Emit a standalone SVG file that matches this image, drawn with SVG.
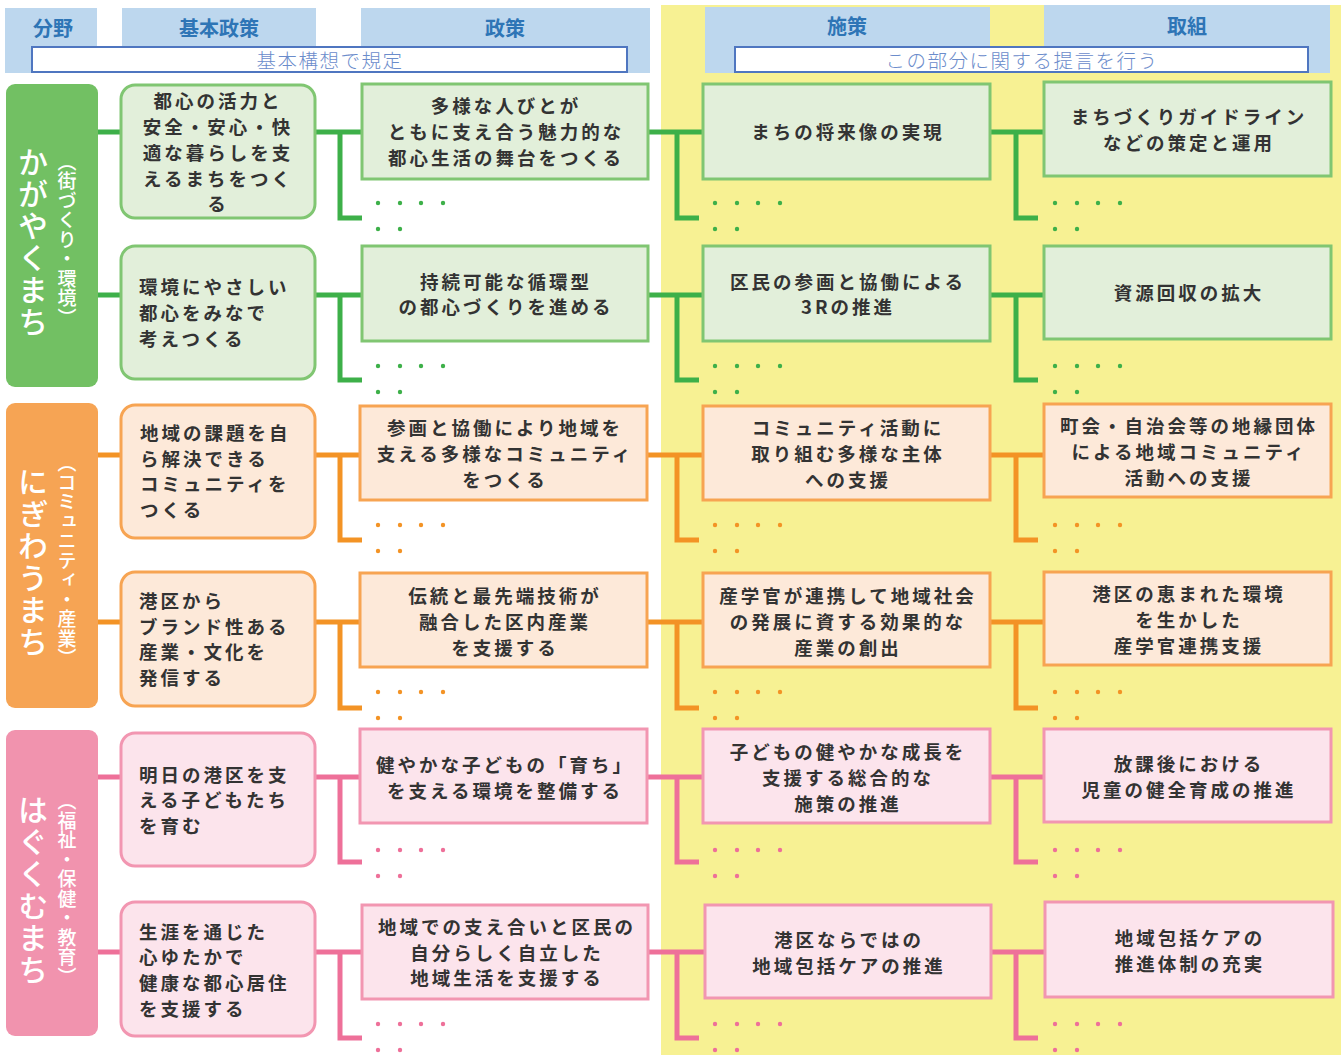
<svg xmlns="http://www.w3.org/2000/svg" width="1341" height="1055" viewBox="0 0 1341 1055">
<style>
text{font-family:"Noto Sans CJK JP","Noto Sans",sans-serif}
.hdr{fill:#bdd7ee}
.ht{font-weight:bold;font-size:20px;fill:#2e75b6;text-anchor:middle;dominant-baseline:central}
.wb{fill:#fff;stroke:#4f76c0;stroke-width:2}
.wt{font-weight:300;font-size:19.5px;letter-spacing:1.5px;fill:#6b8ccb;text-anchor:middle;dominant-baseline:central}
.t{font-weight:bold;font-size:18.5px;letter-spacing:3px;fill:#333;dominant-baseline:central}
.c{text-anchor:middle}
.vm{font-size:30px;letter-spacing:2px;fill:#fff;writing-mode:vertical-rl;text-anchor:middle;font-weight:500}
.vs{font-size:19px;letter-spacing:0.5px;fill:#fff;writing-mode:vertical-rl;text-anchor:middle;font-weight:500}
.gb{fill:#e2efda;stroke:#80c672;stroke-width:3}
.ob{fill:#fde9d9;stroke:#f7a452;stroke-width:3}
.pb{fill:#fce4ec;stroke:#f296b1;stroke-width:3}
.gl{fill:none;stroke:#3db049;stroke-width:5}
.ol{fill:none;stroke:#f39325;stroke-width:5}
.pl{fill:none;stroke:#ee7099;stroke-width:5}
.gd{fill:#3db049}
.od{fill:#f39325}
.pd{fill:#ee7099}
</style>
<defs>
<g id="dots">
<circle cx="0" cy="0" r="2.2"/><circle cx="22" cy="0" r="2.2"/><circle cx="43" cy="0" r="2.2"/><circle cx="65" cy="0" r="2.2"/>
<circle cx="0" cy="26" r="2.2"/><circle cx="22" cy="26" r="2.2"/>
</g>
</defs>
<rect x="0" y="0" width="1341" height="1055" fill="#fff"/>
<rect x="661" y="5" width="680" height="1050" fill="#f7f193"/>

<g id="header">
<rect class="hdr" x="5" y="8" width="92" height="65"/>
<rect class="hdr" x="122" y="8" width="194" height="65"/>
<rect class="hdr" x="361" y="8" width="289" height="65"/>
<rect class="hdr" x="705" y="7" width="285" height="66"/>
<rect class="hdr" x="1044" y="5" width="286" height="68"/>
<text class="ht" x="53" y="27">分野</text>
<text class="ht" x="219" y="27">基本政策</text>
<text class="ht" x="505" y="27">政策</text>
<text class="ht" x="847" y="25">施策</text>
<text class="ht" x="1187" y="25">取組</text>
<rect class="wb" x="32" y="47" width="595" height="25"/>
<text class="wt" x="330" y="59">基本構想で規定</text>
<rect class="wb" x="735" y="47" width="573" height="25"/>
<text class="wt" x="1022" y="59">この部分に関する提言を行う</text>
</g>

<g id="connectors">
<g class="gl">
<path d="M98 132H121M315 132H362M340 132V218H362M648 132H703M677 132V218H699M990 132H1044M1016 132V218H1038"/>
<path d="M98 295H121M315 295H362M340 295V380H362M648 295H703M677 295V380H699M990 295H1044M1016 295V380H1038"/>
</g>
<g class="ol">
<path d="M98 455H121M315 455H360M340 455V540H362M647 455H703M677 455V540H699M990 455H1044M1016 455V540H1038"/>
<path d="M98 622H121M315 622H360M340 622V708H362M647 622H703M677 622V708H699M990 622H1044M1016 622V708H1038"/>
</g>
<g class="pl">
<path d="M98 777H121M315 777H360M340 777V862H362M647 777H703M677 777V862H699M990 777H1044M1016 777V862H1038"/>
<path d="M98 952H121M315 952H362M340 952V1038H362M647 952H705M677 952V1038H699M991 952H1045M1016 952V1038H1038"/>
</g>
<g class="gd">
<use href="#dots" x="378" y="203"/><use href="#dots" x="715" y="203"/><use href="#dots" x="1055" y="203"/>
<use href="#dots" x="378" y="366"/><use href="#dots" x="715" y="366"/><use href="#dots" x="1055" y="366"/>
</g>
<g class="od">
<use href="#dots" x="378" y="525"/><use href="#dots" x="715" y="525"/><use href="#dots" x="1055" y="525"/>
<use href="#dots" x="378" y="692"/><use href="#dots" x="715" y="692"/><use href="#dots" x="1055" y="692"/>
</g>
<g class="pd">
<use href="#dots" x="378" y="850"/><use href="#dots" x="715" y="850"/><use href="#dots" x="1055" y="850"/>
<use href="#dots" x="378" y="1024"/><use href="#dots" x="715" y="1024"/><use href="#dots" x="1055" y="1024"/>
</g>
</g>

<g id="cat-green">
<rect x="6" y="84" width="92" height="303" rx="9" fill="#72c063"/>
<text class="vm" x="33" y="243">かがやくまち</text>
<text class="vs" x="67" y="240">（街づくり・環境）</text>
</g>
<g id="cat-orange">
<rect x="6" y="403" width="92" height="305" rx="9" fill="#f6a454"/>
<text class="vm" x="33" y="563">にぎわうまち</text>
<text class="vs" x="67" y="561">（コミュニティ・産業）</text>
</g>
<g id="cat-pink">
<rect x="6" y="730" width="92" height="306" rx="9" fill="#f193ae"/>
<text class="vm" x="33" y="891">はぐくむまち</text>
<text class="vs" x="67" y="889">（福祉・保健・教育）</text>
</g>

<!-- Row 1 -->
<g id="b1">
<rect class="gb" x="121" y="85" width="194" height="133" rx="14"/>
<text class="t c" x="218" y="100">都心の活力と</text>
<text class="t c" x="218" y="126">安全・安心・快</text>
<text class="t c" x="218" y="152">適な暮らしを支</text>
<text class="t c" x="218" y="178">えるまちをつく</text>
<text class="t c" x="218" y="203">る</text>
</g>
<g id="p1">
<rect class="gb" x="362" y="84" width="286" height="95"/>
<text class="t c" x="506" y="105">多様な人びとが</text>
<text class="t c" x="506" y="131">ともに支え合う魅力的な</text>
<text class="t c" x="506" y="157">都心生活の舞台をつくる</text>
</g>
<g id="s1">
<rect class="gb" x="703" y="84" width="287" height="95"/>
<text class="t c" x="848" y="131">まちの将来像の実現</text>
</g>
<g id="a1">
<rect class="gb" x="1044" y="82" width="287" height="94"/>
<text class="t c" x="1189" y="116">まちづくりガイドライン</text>
<text class="t c" x="1189" y="142">などの策定と運用</text>
</g>

<!-- Row 2 -->
<g id="b2">
<rect class="gb" x="121" y="246" width="194" height="133" rx="14"/>
<text class="t" x="139" y="286">環境にやさしい</text>
<text class="t" x="139" y="312">都心をみなで</text>
<text class="t" x="139" y="338">考えつくる</text>
</g>
<g id="p2">
<rect class="gb" x="362" y="246" width="286" height="95"/>
<text class="t c" x="506" y="281">持続可能な循環型</text>
<text class="t c" x="506" y="306">の都心づくりを進める</text>
</g>
<g id="s2">
<rect class="gb" x="703" y="246" width="287" height="95"/>
<text class="t c" x="848" y="281">区民の参画と協働による</text>
<text class="t c" x="848" y="306">3Rの推進</text>
</g>
<g id="a2">
<rect class="gb" x="1044" y="246" width="287" height="93"/>
<text class="t c" x="1189" y="292">資源回収の拡大</text>
</g>

<!-- Row 3 -->
<g id="b3">
<rect class="ob" x="121" y="405" width="194" height="133" rx="14"/>
<text class="t" x="140" y="432">地域の課題を自</text>
<text class="t" x="140" y="458">ら解決できる</text>
<text class="t" x="140" y="483">コミュニティを</text>
<text class="t" x="140" y="509">つくる</text>
</g>
<g id="p3">
<rect class="ob" x="360" y="406" width="287" height="94"/>
<text class="t c" x="505" y="427">参画と協働により地域を</text>
<text class="t c" x="505" y="453">支える多様なコミュニティ</text>
<text class="t c" x="505" y="479">をつくる</text>
</g>
<g id="s3">
<rect class="ob" x="703" y="406" width="287" height="94"/>
<text class="t c" x="848" y="427">コミュニティ活動に</text>
<text class="t c" x="848" y="453">取り組む多様な主体</text>
<text class="t c" x="848" y="479">への支援</text>
</g>
<g id="a3">
<rect class="ob" x="1044" y="404" width="287" height="93"/>
<text class="t c" x="1189" y="425">町会・自治会等の地縁団体</text>
<text class="t c" x="1189" y="451">による地域コミュニティ</text>
<text class="t c" x="1189" y="477">活動への支援</text>
</g>

<!-- Row 4 -->
<g id="b4">
<rect class="ob" x="121" y="572" width="194" height="134" rx="14"/>
<text class="t" x="139" y="600">港区から</text>
<text class="t" x="139" y="626">ブランド性ある</text>
<text class="t" x="139" y="651">産業・文化を</text>
<text class="t" x="139" y="677">発信する</text>
</g>
<g id="p4">
<rect class="ob" x="360" y="573" width="287" height="94"/>
<text class="t c" x="505" y="595">伝統と最先端技術が</text>
<text class="t c" x="505" y="621">融合した区内産業</text>
<text class="t c" x="505" y="647">を支援する</text>
</g>
<g id="s4">
<rect class="ob" x="703" y="573" width="287" height="94"/>
<text class="t c" x="848" y="595">産学官が連携して地域社会</text>
<text class="t c" x="848" y="621">の発展に資する効果的な</text>
<text class="t c" x="848" y="647">産業の創出</text>
</g>
<g id="a4">
<rect class="ob" x="1044" y="572" width="287" height="93"/>
<text class="t c" x="1189" y="593">港区の恵まれた環境</text>
<text class="t c" x="1189" y="619">を生かした</text>
<text class="t c" x="1189" y="645">産学官連携支援</text>
</g>

<!-- Row 5 -->
<g id="b5">
<rect class="pb" x="121" y="733" width="194" height="133" rx="14"/>
<text class="t" x="139" y="774">明日の港区を支</text>
<text class="t" x="139" y="799">える子どもたち</text>
<text class="t" x="139" y="825">を育む</text>
</g>
<g id="p5">
<rect class="pb" x="360" y="729" width="287" height="94"/>
<text class="t c" x="505" y="764">健やかな子どもの「育ち」</text>
<text class="t c" x="505" y="790">を支える環境を整備する</text>
</g>
<g id="s5">
<rect class="pb" x="703" y="729" width="287" height="94"/>
<text class="t c" x="848" y="751">子どもの健やかな成長を</text>
<text class="t c" x="848" y="777">支援する総合的な</text>
<text class="t c" x="848" y="803">施策の推進</text>
</g>
<g id="a5">
<rect class="pb" x="1044" y="729" width="287" height="93"/>
<text class="t c" x="1189" y="763">放課後における</text>
<text class="t c" x="1189" y="789">児童の健全育成の推進</text>
</g>

<!-- Row 6 -->
<g id="b6">
<rect class="pb" x="121" y="902" width="194" height="134" rx="14"/>
<text class="t" x="139" y="931">生涯を通じた</text>
<text class="t" x="139" y="956">心ゆたかで</text>
<text class="t" x="139" y="982">健康な都心居住</text>
<text class="t" x="139" y="1008">を支援する</text>
</g>
<g id="p6">
<rect class="pb" x="362" y="905" width="286" height="94"/>
<text class="t c" x="507" y="926">地域での支え合いと区民の</text>
<text class="t c" x="507" y="952">自分らしく自立した</text>
<text class="t c" x="507" y="977">地域生活を支援する</text>
</g>
<g id="s6">
<rect class="pb" x="705" y="905" width="286" height="93"/>
<text class="t c" x="849" y="939">港区ならではの</text>
<text class="t c" x="849" y="965">地域包括ケアの推進</text>
</g>
<g id="a6">
<rect class="pb" x="1045" y="902" width="288" height="95"/>
<text class="t c" x="1190" y="937">地域包括ケアの</text>
<text class="t c" x="1190" y="963">推進体制の充実</text>
</g>
</svg>
